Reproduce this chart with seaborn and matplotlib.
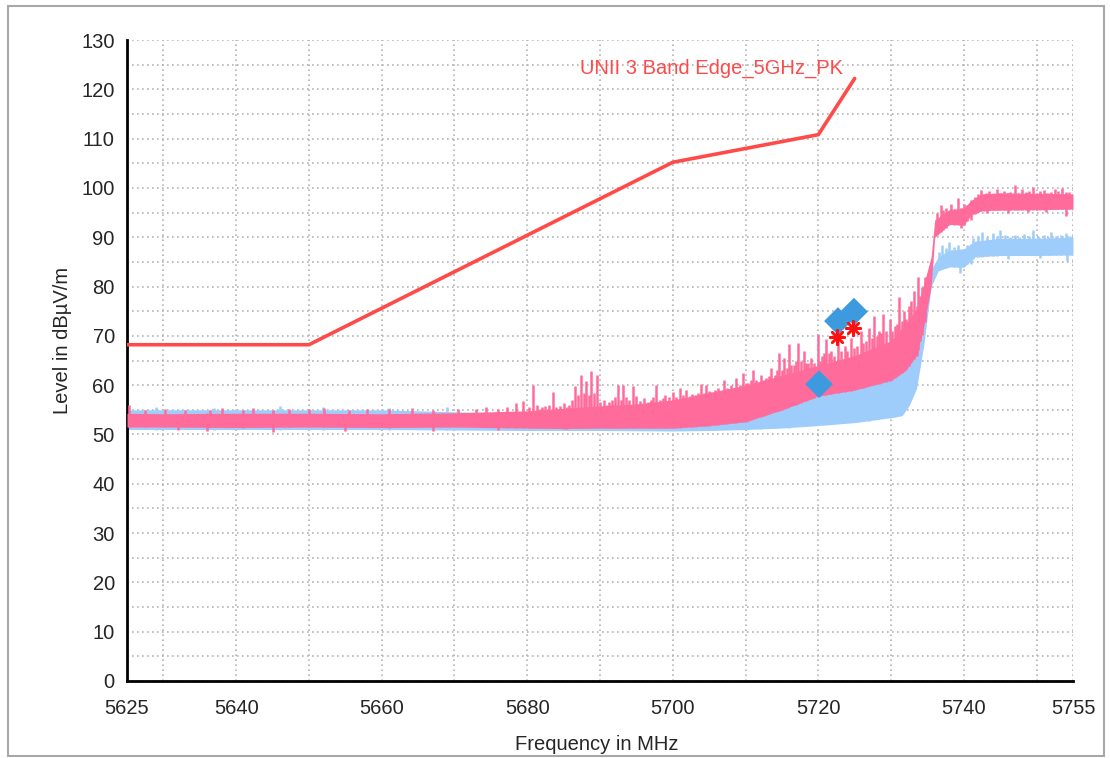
import numpy as np
import pandas as pd
import matplotlib
matplotlib.use("Agg")
import matplotlib.pyplot as plt
from matplotlib.patches import Rectangle
import seaborn as sns

# ---- data ----
# limit line (dBuV/m)
LIMIT_FREQ = [5625, 5650, 5700, 5720, 5725]
LIMIT_LEVEL = [68.2, 68.2, 105.2, 110.8, 122.2]

# pink (peak) trace: body envelope
PINK_FREQ = [5625, 5630, 5640, 5650, 5660, 5670, 5680, 5685, 5690, 5695, 5700,
             5705, 5710, 5715, 5720, 5725, 5730, 5732, 5733.5, 5734.5, 5735.5,
             5736, 5738, 5740, 5741, 5742.5, 5745, 5750, 5755]
PINK_LOW = [51.5, 51.5, 51.4, 51.5, 51.4, 51.5, 51.3, 51.2, 51.3, 51.3, 51.3,
            51.8, 52.6, 55.0, 57.8, 59.0, 61.0, 63.0, 66.0, 72.0, 80.0,
            90.0, 92.6, 92.5, 94.5, 95.4, 95.5, 95.6, 95.7]
PINK_HIGH = [54.3, 54.2, 54.3, 54.3, 54.2, 54.4, 54.8, 55.3, 55.8, 56.2, 57.0,
             58.5, 60.0, 62.0, 64.0, 66.0, 69.0, 72.5, 75.5, 80.5, 86.0,
             93.5, 95.6, 95.9, 97.5, 98.8, 99.0, 98.9, 98.8]

# pink spikes (frequency, peak level)
PINK_SPIKE_FREQ = [
    5625.3, 5627.5, 5630.2, 5633, 5636.4, 5638, 5641, 5642.3, 5645, 5647.2,
    5650, 5652.1, 5655.5, 5658, 5661, 5664.2, 5667, 5670.5, 5673, 5674.3,
    5676, 5677.2, 5678.5, 5679.4,
    5680.3, 5680.8, 5681.3, 5681.7, 5682, 5682.5, 5683, 5683.5, 5684, 5684.5,
    5685, 5685.4, 5685.8, 5686.2, 5686.5, 5687, 5687.4, 5687.8, 5688.1, 5688.5,
    5688.8, 5689.2, 5689.6, 5690, 5690.5, 5690.9, 5691.3, 5691.7, 5692.1, 5692.5,
    5692.9, 5693.2, 5693.6, 5694, 5694.5, 5695, 5695.5, 5696.1, 5696.6, 5697,
    5697.3, 5697.7, 5698.2, 5698.6, 5699, 5699.5, 5700,
    5700.4, 5701, 5701.4, 5701.8, 5702.3, 5702.7, 5703, 5703.5, 5703.9, 5704.3,
    5704.6, 5705, 5705.3, 5705.8, 5706.2, 5706.6, 5707.1, 5707.5, 5708, 5708.4,
    5708.7, 5709.2, 5709.6, 5710, 5710.3, 5710.7, 5711, 5711.5, 5712.1, 5712.5,
    5712.8, 5713.2, 5713.5, 5714, 5714.3, 5714.6, 5715, 5715.3, 5715.7, 5716,
    5716.3, 5716.6, 5716.9, 5717.2, 5717.6, 5718.1, 5718.3, 5718.6, 5719, 5719.4,
    5719.9, 5720.2, 5720.5,
    5720.8, 5721.1, 5721.5, 5721.8, 5722.2, 5722.7, 5723.1, 5723.6, 5724, 5724.5,
    5724.9, 5725.3, 5725.9, 5726.2, 5726.5, 5727, 5727.4, 5727.7, 5728, 5728.3,
    5728.6, 5728.9, 5729.3, 5729.8, 5730.1, 5730.5, 5730.8, 5731.1, 5731.5, 5731.8,
    5732.1, 5732.4, 5732.8, 5733.2, 5733.5, 5733.7, 5734, 5734.2, 5734.6,
    5736.3, 5736.8, 5737.1, 5737.5, 5737.9, 5738.3, 5738.7, 5739.2, 5739.6, 5740,
    5740.4, 5740.9, 5741.5, 5741.9, 5742.3, 5742.8, 5743.1, 5743.5, 5744, 5744.5,
    5744.9, 5745.5, 5745.9, 5746.4, 5747, 5747.4, 5748, 5748.5, 5749, 5749.5,
    5750, 5750.5, 5751, 5751.5, 5752, 5752.5, 5753, 5753.5, 5754, 5754.5]
PINK_SPIKE_LEVEL = [
    56.0, 55.0, 55.2, 54.9, 55.0, 55.3, 55.0, 55.4, 55.0, 55.2,
    55.1, 55.3, 55.0, 55.2, 55.1, 55.4, 55.0, 55.2, 55.1, 55.6,
    55.2, 55.5, 56.3, 56.8,
    55.5, 60.0, 56.0, 55.2, 55.6, 55.8, 56.0, 58.7, 55.5, 55.8,
    56.3, 55.5, 56.0, 57.0, 59.8, 58.0, 62.1, 58.5, 60.8, 58.0,
    62.9, 58.5, 62.1, 56.5, 57.0, 56.0, 56.5, 57.0, 57.5, 60.0,
    57.0, 60.0, 57.5, 57.0, 59.8, 57.7, 56.8, 57.3, 56.5, 57.0,
    57.5, 60.0, 57.0, 57.3, 58.0, 57.5, 58.7,
    57.5, 59.4, 58.0, 59.0, 57.8, 58.2, 58.0, 58.5, 60.3, 58.5,
    60.0, 58.8, 58.6, 59.0, 59.5, 58.8, 61.0, 59.5, 60.0, 59.5,
    61.4, 60.0, 62.4, 60.5, 60.5, 61.0, 63.1, 61.0, 62.1, 61.0,
    61.5, 61.8, 63.4, 62.0, 63.0, 66.6, 63.0, 65.5, 63.5, 68.3,
    64.0, 64.0, 65.0, 68.6, 65.0, 66.9, 64.5, 64.5, 65.5, 64.5,
    70.3, 65.0, 66.0,
    66.5, 69.3, 66.5, 67.0, 66.0, 71.3, 67.0, 68.0, 67.0, 69.6,
    67.5, 68.0, 71.0, 68.5, 69.0, 71.6, 69.5, 74.0, 70.0, 71.0,
    70.5, 74.4, 71.0, 73.4, 71.0, 72.0, 72.5, 77.8, 73.0, 75.0,
    73.5, 76.0, 77.1, 79.0, 76.0, 81.9, 78.0, 80.0, 82.0,
    95.0, 96.5, 95.5, 96.0, 95.2, 96.8, 95.8, 97.9, 96.0, 96.8,
    96.5, 97.0, 98.2, 98.8, 99.5, 98.6, 99.0, 99.3, 98.8, 99.8,
    99.0, 99.4, 98.9, 99.2, 100.5, 99.0, 99.8, 99.1, 99.3, 100.2,
    99.0, 99.3, 99.6, 98.9, 99.2, 99.8, 99.4, 100.0, 99.1, 99.2]

# pink dips below the body (frequency, level)
PINK_DIP_FREQ = [5632, 5636, 5645, 5655, 5667, 5676, 5737.4, 5739.6, 5741,
                 5743.2, 5746, 5748.8, 5751.3, 5754]
PINK_DIP_LEVEL = [50.9, 50.8, 50.6, 50.8, 50.7, 50.9, 92.0, 91.8, 93.5,
                  95.0, 95.0, 95.2, 95.1, 94.3]

# light blue (average) trace: body envelope
BLUE_FREQ = [5625, 5640, 5660, 5680, 5690, 5700, 5705, 5710, 5715, 5720, 5725,
             5730, 5731.5, 5732.5, 5733.5, 5734.5, 5735.5, 5736.5, 5738, 5740,
             5741.5, 5745, 5750, 5755]
BLUE_LOW = [51.0, 51.0, 51.0, 50.8, 50.8, 50.7, 50.8, 51.0, 51.3, 51.8, 52.4,
            53.4, 53.8, 55.9, 59.3, 68.2, 80.0, 83.2, 84.0, 83.9,
            86.0, 86.3, 86.3, 86.4]
BLUE_HIGH = [55.0, 55.0, 55.0, 54.2, 53.8, 52.8, 53.4, 54.2, 55.5, 58.0, 59.2,
             61.2, 62.8, 65.0, 69.0, 77.0, 83.5, 86.0, 87.4, 87.6,
             89.2, 89.8, 89.8, 90.0]

BLUE_SPIKE_FREQ = [5629, 5637, 5646, 5652, 5661, 5669, 5706, 5712, 5716, 5722, 5727,
                   5730.5, 5736.6, 5737, 5737.5, 5738, 5738.6, 5739.2, 5740.5,
                   5741.2, 5742, 5742.5, 5743.2, 5744, 5744.6, 5745, 5745.7, 5746.3,
                   5747, 5747.6, 5748.3, 5749, 5749.5, 5750.2, 5751, 5751.6, 5752,
                   5752.7, 5753.4, 5754, 5754.6]
BLUE_SPIKE_LEVEL = [55.6, 55.4, 55.8, 55.5, 55.3, 55.5, 54.5, 55.5, 57.0, 59.0, 60.0,
                    62.0, 87.0, 88.5, 87.8, 89.0, 88.0, 88.4, 88.5,
                    89.8, 90.2, 91.0, 90.0, 90.8, 90.2, 91.5, 90.4, 90.0,
                    90.5, 90.1, 90.6, 90.3, 91.5, 90.2, 90.4, 90.0, 91.0,
                    90.3, 90.5, 90.8, 90.2]
BLUE_DIP_FREQ = [5739.5, 5741, 5746, 5750.5, 5754.2]
BLUE_DIP_LEVEL = [82.8, 84.5, 85.5, 85.8, 85.2]

# final measurement markers
DIAMOND_FREQ = [5720.1, 5722.7, 5724.9]
DIAMOND_LEVEL = [60.2, 73.0, 74.9]
STAR_FREQ = [5722.6, 5724.8]
STAR_LEVEL = [69.8, 71.5]

LIMIT_COLOR = "#ff4a4a"
PINK = "#ff6b9b"
BLUE = "#9fcdfb"
DIAMOND = "#3d9ade"

sns.set_style("white")
plt.rcParams["font.family"] = ["Liberation Sans", "DejaVu Sans"]

fig = plt.figure(figsize=(11.1, 7.58), dpi=100)
ax = fig.add_axes([127 / 1110, 1 - 681 / 758, 946 / 1110, 641 / 758])

# traces
ax.fill_between(BLUE_FREQ, BLUE_LOW, BLUE_HIGH, color=BLUE, lw=0, zorder=2)
blue_base = np.interp(BLUE_SPIKE_FREQ, BLUE_FREQ, BLUE_LOW)
ax.vlines(BLUE_SPIKE_FREQ, blue_base, BLUE_SPIKE_LEVEL, color=BLUE, lw=1.8, zorder=2)
blue_top = np.interp(BLUE_DIP_FREQ, BLUE_FREQ, BLUE_HIGH)
ax.vlines(BLUE_DIP_FREQ, BLUE_DIP_LEVEL, blue_top, color=BLUE, lw=1.8, zorder=2)

ax.fill_between(PINK_FREQ, PINK_LOW, PINK_HIGH, color=PINK, lw=0, zorder=3)
pink_base = np.interp(PINK_SPIKE_FREQ, PINK_FREQ, PINK_LOW)
ax.vlines(PINK_SPIKE_FREQ, pink_base, PINK_SPIKE_LEVEL, color=PINK, lw=1.8, zorder=3)
pink_top = np.interp(PINK_DIP_FREQ, PINK_FREQ, PINK_HIGH)
ax.vlines(PINK_DIP_FREQ, PINK_DIP_LEVEL, pink_top, color=PINK, lw=1.8, zorder=3)

# limit line
limit_df = pd.DataFrame({"freq": LIMIT_FREQ, "level": LIMIT_LEVEL})
sns.lineplot(data=limit_df, x="freq", y="level", color=LIMIT_COLOR, lw=2.6,
             ax=ax, zorder=4)
ax.text(5687.3, 124.3, "UNII 3 Band Edge_5GHz_PK", color=LIMIT_COLOR,
        fontsize=14.5, ha="left", va="center", zorder=5)

# markers
sns.scatterplot(x=DIAMOND_FREQ, y=DIAMOND_LEVEL, marker="D", s=200, color=DIAMOND,
                edgecolor="none", ax=ax, zorder=6)
ax.scatter(STAR_FREQ, STAR_LEVEL, marker=(8, 2, 0), s=110, color="#ff1010",
           linewidths=1.8, zorder=7)

# axes
ax.set_xlim(5625, 5755)
ax.set_ylim(0, 130)
xticks = [5625] + list(range(5630, 5751, 10)) + [5755]
xlabels = [str(t) if (t in (5625, 5755) or t % 20 == 0) else "" for t in xticks]
ax.set_xticks(xticks)
ax.set_xticklabels(xlabels)
ax.set_yticks(range(0, 131, 10))
ax.set_yticks(range(5, 130, 10), minor=True)

for side in ("top", "right"):
    ax.spines[side].set_visible(False)
for side in ("left", "bottom"):
    ax.spines[side].set_color("black")
    ax.spines[side].set_linewidth(2)

ax.tick_params(which="both", direction="inout", length=9.5, width=1.6, color="black")
ax.tick_params(axis="y", pad=4, labelsize=14.5)
ax.tick_params(axis="x", pad=8, labelsize=14.5)

ax.grid(True, which="both", color="#b4b4b4", linestyle=(0, (1, 2)), lw=1.2)
ax.set_axisbelow(True)
ax.set_xlabel("")
ax.set_ylabel("")

fig.text(597 / 1110, 1 - 745 / 758, "Frequency in MHz", fontsize=14.5,
         ha="center", va="center")
fig.text(62 / 1110, 1 - 340 / 758, "Level in dB\u00b5V/m", fontsize=14.5,
         rotation=90, ha="center", va="center")

# outer frame
fig.patches.append(Rectangle((8 / 1110, 1 - 756 / 758), 1096 / 1110, 750 / 758,
                             transform=fig.transFigure, fill=False,
                             edgecolor="#a8a8a8", lw=1.5))

fig.savefig("out.png", dpi=100)
